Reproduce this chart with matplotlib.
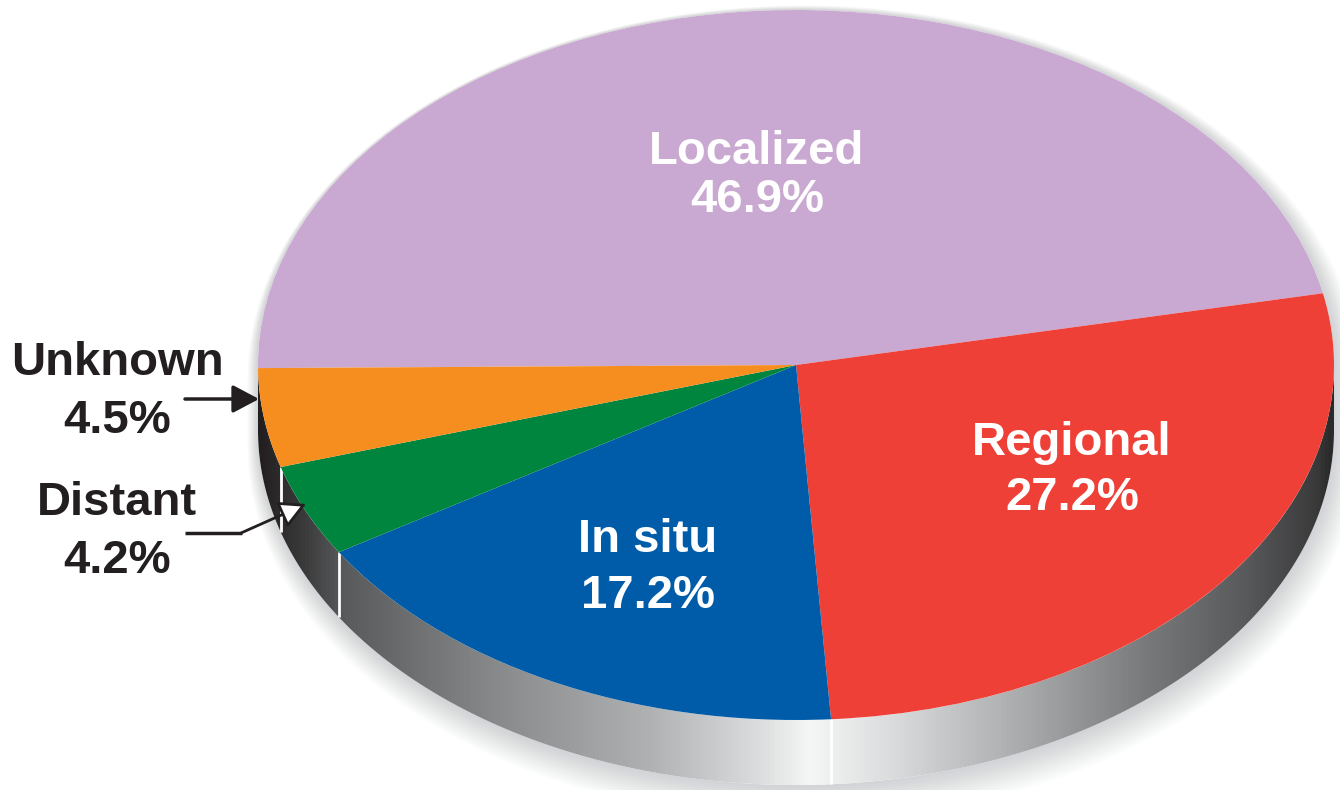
import numpy as np
import matplotlib.pyplot as plt
from matplotlib.patches import Polygon
from matplotlib.colors import LinearSegmentedColormap

# data
stages = ['Localized', 'Regional', 'In situ', 'Distant', 'Unknown']
shares = [46.9, 27.2, 17.2, 4.2, 4.5]
colors = ['#c9a8d1', '#ee4036', '#005ca9', '#00853f', '#f68d1f']

# geometry of the tilted pie, in pixels
W, H = 1340, 790
CX, CY, RX, RY = 796, 365, 538, 355
DEPTH = 65 / RY
START = 180.5


def px(x, y):
    """pixel position -> data position of the unit pie"""
    return (x - CX) / RX, (CY - y) / RY


plt.rcParams['font.family'] = ['Liberation Sans', 'DejaVu Sans']

fig = plt.figure(figsize=(W / 100, H / 100), dpi=100)
ax = fig.add_axes([0, 0, 1, 1])

wedges, _ = ax.pie(shares, colors=colors, startangle=START, counterclock=False,
                   radius=1, wedgeprops=dict(linewidth=0, zorder=3))

# soft shadow under the disc
t_up = np.linspace(0, np.pi, 300)
t_lo = np.linspace(np.pi, 2 * np.pi, 300)
sil = np.vstack([np.column_stack([np.cos(t_up), np.sin(t_up)]),
                 np.column_stack([np.cos(t_lo), np.sin(t_lo) - DEPTH])])
for k in range(1, 16):
    grow = k * 1.2
    sx = (RX + grow) / RX
    sy = (RY + grow) / RY
    pts = sil * [sx, sy] + [k * 0.5 / RX, -k * 0.9 / RY]
    ax.add_patch(Polygon(pts, closed=True, facecolor='#7f858c', edgecolor='none',
                         alpha=0.022, zorder=1))
ax.add_patch(Polygon(sil, closed=True, facecolor='white', edgecolor='none', zorder=1.5))

# side of the disc with a metallic gradient
stops = [(0.0, '#231f20'), (0.04, '#3a3a3b'), (0.076, '#58595b'), (0.225, '#8a8b8d'),
         (0.364, '#b0b1b3'), (0.475, '#e0e1e2'), (0.513, '#f5f6f6'), (0.596, '#d8d9da'),
         (0.735, '#a0a1a3'), (0.828, '#78797b'), (0.921, '#58595b'), (0.986, '#3a3a3b'),
         (1.0, '#2a2a2a')]
side_cmap = LinearSegmentedColormap.from_list('side', stops)
top = np.column_stack([np.cos(t_lo), np.sin(t_lo)])
bot = np.column_stack([np.cos(t_lo[::-1]), np.sin(t_lo[::-1]) - DEPTH])
band = Polygon(np.vstack([top, bot]), closed=True, facecolor='none', edgecolor='none')
ax.add_patch(band)
grad = np.linspace(0, 1, 800).reshape(1, -1)
img = ax.imshow(grad, cmap=side_cmap, extent=(-1, 1, -1 - DEPTH, 0), aspect='auto',
                interpolation='bilinear', zorder=2)
img.set_clip_path(band)

# white seams on the side where the slices meet
edges = START - np.cumsum(shares) * 3.6
for a in np.deg2rad(edges):
    if np.sin(a) < -0.02:
        ax.plot([np.cos(a)] * 2, [np.sin(a), np.sin(a) - DEPTH], color='white',
                lw=2, zorder=2.5, solid_capstyle='butt')

# labels: (name baseline x, name baseline y, pct baseline y, color)
label_pos = {
    'Localized': (757, 164, 212, 'white'),
    'Regional': (1072, 455, 510, 'white'),
    'In situ': (648, 552, 608, 'white'),
    'Unknown': (117, 375, 433, '#231f20'),
    'Distant': (117, 515, 573, '#231f20'),
}
for name, share in zip(stages, shares):
    x, y1, y2, c = label_pos[name]
    for txt, yy in ((name, y1), (f'{share:.1f}%', y2)):
        ax.text(*px(x, yy), txt, ha='center', va='baseline', fontsize=34,
                fontweight='bold', color=c, zorder=5)

# arrows for the two small slices
head = '-|>,head_length=1.6,head_width=0.85'
ax.annotate('', xy=px(259, 399), xytext=px(185, 399),
            arrowprops=dict(arrowstyle=head, color='#231f20', lw=2.5,
                            shrinkA=0, shrinkB=0), zorder=6)
ax.plot(*zip(px(185, 533), px(242, 533)), color='#231f20', lw=2.5, zorder=6,
        solid_capstyle='butt')
ax.annotate('', xy=px(306, 504), xytext=px(241, 533),
            arrowprops=dict(arrowstyle=head, fc='white', ec='#231f20', lw=2.0,
                            shrinkA=0, shrinkB=0), zorder=6)

ax.set_aspect('auto')
ax.set_xlim(-CX / RX, (W - CX) / RX)
ax.set_ylim((CY - H) / RY, CY / RY)
ax.axis('off')

fig.savefig('out.png', dpi=100, facecolor='white')
